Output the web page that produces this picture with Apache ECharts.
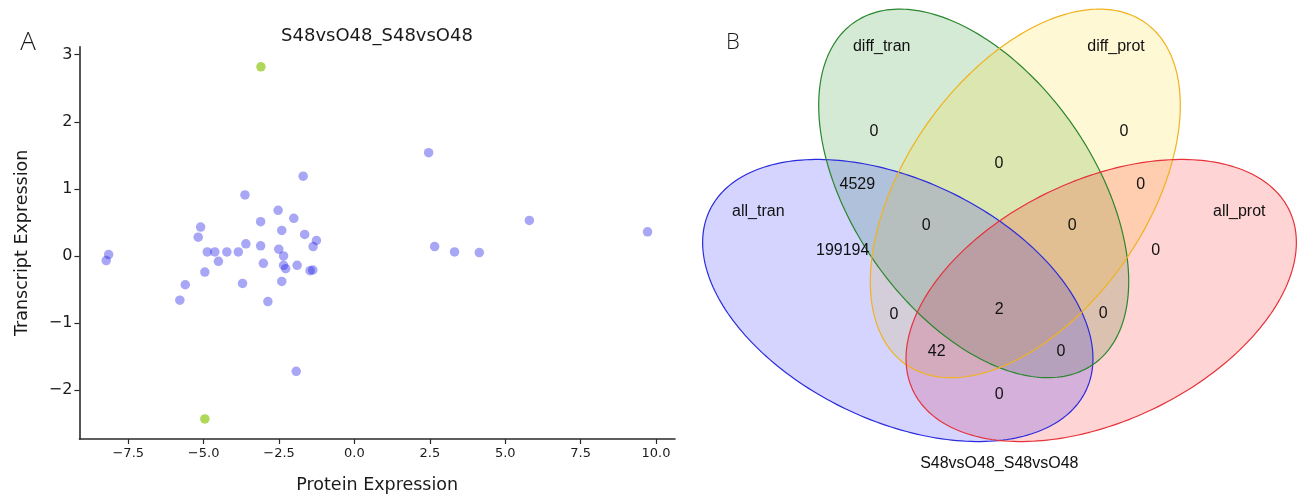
<!DOCTYPE html>
<html><head><meta charset="utf-8">
<script src="https://cdn.jsdelivr.net/npm/echarts@6/dist/echarts.min.js"></script>
<style>html,body{margin:0;padding:0;background:#fff}#c{width:1301px;height:495px}</style>
</head><body><div id="c"></div>
<script>
// ---- Panel A: scatter data ----
const proteinExpr = [2.46,-1.70,-3.63,-2.53,-2.01,-3.11,5.80,9.72,-5.10,-5.18,-2.41,-1.65,-1.26,-1.37,-3.60,-3.11,-2.51,2.66,3.32,4.14,-8.15,-8.23,-4.88,-4.63,-4.23,-3.85,-4.51,-2.35,-3.02,-2.35,-2.28,-1.90,-1.47,-1.38,-4.96,-3.71,-2.41,-5.61,-5.79,-2.87,-1.93];
const transcriptExpr = [1.54,1.19,0.91,0.68,0.56,0.51,0.53,0.36,0.43,0.28,0.38,0.32,0.23,0.14,0.18,0.15,0.10,0.14,0.06,0.05,0.02,-0.07,0.06,0.06,0.06,0.06,-0.08,0.00,-0.11,-0.14,-0.19,-0.14,-0.22,-0.21,-0.24,-0.41,-0.38,-0.43,-0.66,-0.68,-1.72];
const highlightProtein = [-3.10,-4.96];
const highlightTranscript = [2.82,-2.43];
const xTicks = [-7.5,-5,-2.5,0,2.5,5,7.5,10];
const yTicks = [-2,-1,0,1,2,3];
const scatterTitle = 'S48vsO48_S48vsO48';

// ---- Panel B: Venn data ----
const vennSets = ['all_tran','diff_tran','diff_prot','all_prot'];
const vennRegionKeys = ['0100','0010','0110','1100','0011','1110','0111','1000','0001','1010','1111','0101','1011','1101','1001'];
const vennRegionCounts = [0,0,0,4529,0,0,0,199194,0,0,2,0,42,0,0];
const vennTitle = 'S48vsO48_S48vsO48';

// ---- Venn layout (drawing geometry, in Venn coordinate units) ----
const vennEllipseGeom = [ // cx, cy, semi-major, semi-minor, rotation(deg)
  [897.8,300.5,208.6,120.3,25.6],
  [973.7,193.4,208.6,120.3,55.0],
  [1025.3,193.4,208.6,120.3,-55.0],
  [1101.2,300.5,208.6,120.3,-25.6]
];
const vennDrawOrder = [1,2,3,0];
const vennFill = ['rgba(0,0,255,0.17)','rgba(0,128,0,0.17)','rgba(255,215,0,0.17)','rgba(255,0,0,0.17)'];
const vennStroke = ['#2b2bdd','#2a862e','#f0b21e','#e6323a'];
const vennRegionPos = [[874,131.7],[1124,131.7],[999,163.3],[857.3,184.3],[1140.7,184.3],[926.2,225.7],[1072.3,226],[842.7,251],[1155.7,251],[894,314.3],[999.3,310],[1103.3,314],[936.7,351.7],[1061,351.7],[999.3,394.3]];
const vennSetLabelPos = [[758.3,211.7],[881.7,46.7],[1116,46.7],[1239.3,211.7]];
const vennTitlePos = [999.3,463.3];

const minus = s => String(s).replace('-', '\u2212');
const chart = echarts.init(document.getElementById('c'), null, {renderer:'canvas'});
const axisColor = '#2a2a2a';
const dejavu = '"DejaVu Sans", sans-serif';
const arial = '"Liberation Sans", Arial, sans-serif';

function ellipsePts(g, api){
  const th = g[4]*Math.PI/180, c = Math.cos(th), s = Math.sin(th);
  const pts = [];
  for (let i=0;i<240;i++){
    const t = i/240*2*Math.PI;
    const ex = g[2]*Math.cos(t), ey = g[3]*Math.sin(t);
    pts.push(api.coord([g[0]+ex*c-ey*s, g[1]+ex*s+ey*c]));
  }
  return pts;
}

const textItems = [];
vennRegionCounts.forEach((v,i)=>textItems.push([vennRegionPos[i][0], vennRegionPos[i][1], String(v)]));
vennSets.forEach((n,i)=>textItems.push([vennSetLabelPos[i][0], vennSetLabelPos[i][1], n]));
textItems.push([vennTitlePos[0], vennTitlePos[1], vennTitle]);

chart.setOption({
  animation:false,
  backgroundColor:'#fff',
  graphic:[
    {type:'text', x:377, y:36, style:{text:scatterTitle, font:'18px '+dejavu, fill:'#1a1a1a', textAlign:'center', textVerticalAlign:'middle'}},
    {type:'text', x:28, y:43, style:{text:'A', font:'300 26px "Open Sans", '+dejavu, fill:'#1a1a1a', textAlign:'center', textVerticalAlign:'middle'}},
    {type:'text', x:733, y:43, style:{text:'B', font:'300 22px "Open Sans", '+dejavu, fill:'#1a1a1a', textAlign:'center', textVerticalAlign:'middle'}}
  ],
  grid:[
    {left:79.4, top:46.7, width:595.6, height:392.3, containLabel:false, outerBoundsMode:'none'},
    {left:690, top:0, width:611, height:495, containLabel:false, outerBoundsMode:'none'}
  ],
  xAxis:[
    {type:'value', gridIndex:0, min:-9.12, max:10.63,
     axisLine:{show:true, onZero:false, lineStyle:{color:axisColor, width:1.6}},
     axisTick:{show:true, customValues:xTicks, length:5, lineStyle:{color:axisColor, width:1.2}},
     axisLabel:{customValues:xTicks, formatter:v=>minus(Number(v).toFixed(1)), fontSize:13, fontFamily:dejavu, color:'#1a1a1a', margin:8},
     splitLine:{show:false},
     name:'Protein Expression', nameLocation:'middle', nameGap:37, nameTextStyle:{fontSize:17.5, fontFamily:dejavu, color:'#1a1a1a'}},
    {type:'value', gridIndex:1, min:690, max:1301, show:false}
  ],
  yAxis:[
    {type:'value', gridIndex:0, min:-2.73, max:3.12,
     axisLine:{show:true, onZero:false, lineStyle:{color:axisColor, width:1.6}},
     axisTick:{show:true, customValues:yTicks, length:5, lineStyle:{color:axisColor, width:1.2}},
     axisLabel:{customValues:yTicks, formatter:v=>minus(v), fontSize:16, fontFamily:dejavu, color:'#1a1a1a', margin:7},
     splitLine:{show:false},
     name:'Transcript Expression', nameLocation:'middle', nameGap:48, nameRotate:90, nameTextStyle:{fontSize:17.5, fontFamily:dejavu, color:'#1a1a1a'}},
    {type:'value', gridIndex:1, min:0, max:495, inverse:true, show:false}
  ],
  series:[
    {type:'scatter', xAxisIndex:0, yAxisIndex:0, symbolSize:9.5,
     itemStyle:{color:'rgba(20,20,230,0.47)'},
     data: proteinExpr.map((x,i)=>[x, transcriptExpr[i]]), silent:true},
    {type:'scatter', xAxisIndex:0, yAxisIndex:0, symbolSize:9.5,
     itemStyle:{color:'rgba(150,204,40,0.95)'},
     data: highlightProtein.map((x,i)=>[x, highlightTranscript[i]]), silent:true},
    {type:'custom', xAxisIndex:1, yAxisIndex:1, silent:true,
     data: vennDrawOrder.map(k=>[vennEllipseGeom[k][0],vennEllipseGeom[k][1]]),
     renderItem:(p, api)=>{const k = vennDrawOrder[p.dataIndex];
       return {type:'polygon', shape:{points:ellipsePts(vennEllipseGeom[k], api)}, style:{fill:vennFill[k], stroke:null}};}},
    {type:'custom', xAxisIndex:1, yAxisIndex:1, silent:true, z:3,
     data: vennEllipseGeom.map(g=>[g[0],g[1]]),
     renderItem:(p, api)=>({type:'polygon', shape:{points:ellipsePts(vennEllipseGeom[p.dataIndex], api)}, style:{fill:null, stroke:vennStroke[p.dataIndex], lineWidth:1.2}})},
    {type:'custom', xAxisIndex:1, yAxisIndex:1, silent:true, z:4,
     data: textItems.map(t=>[t[0],t[1]]),
     renderItem:(p, api)=>{const pt = api.coord([textItems[p.dataIndex][0], textItems[p.dataIndex][1]]);
       return {type:'text', x:pt[0], y:pt[1], style:{text:textItems[p.dataIndex][2], font:'16px '+arial, fill:'#111', textAlign:'center', textVerticalAlign:'middle'}};}}
  ]
});
</script></body></html>
